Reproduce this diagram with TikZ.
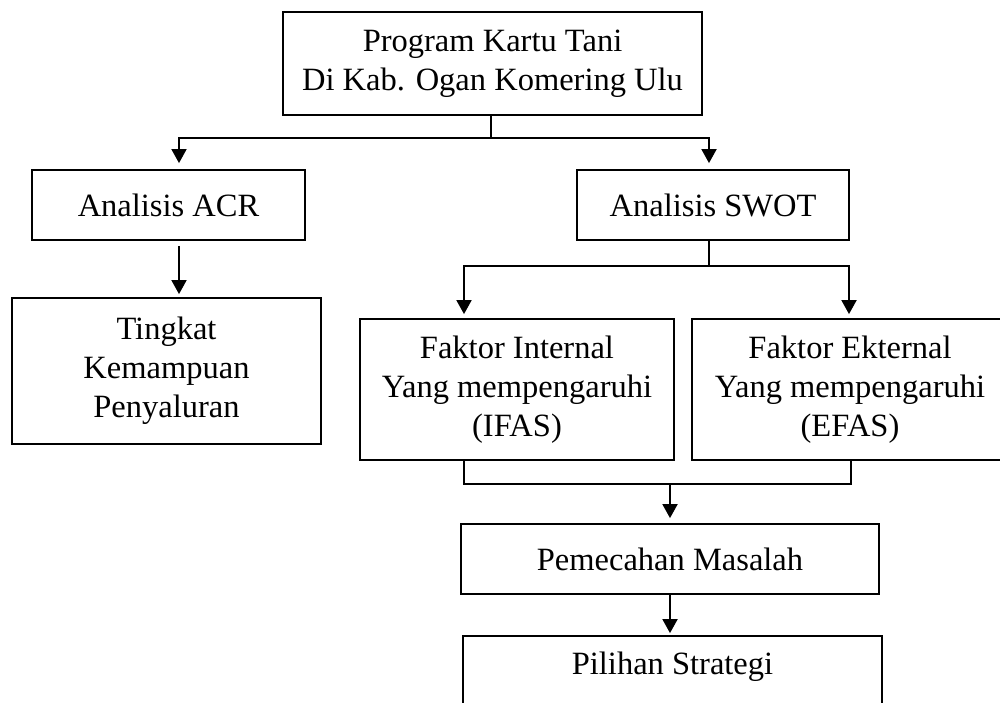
\documentclass[tikz,border=0pt]{standalone}
\usepackage{fontspec}
\setmainfont{Liberation Serif}
\usetikzlibrary{arrows.meta}
\begin{document}
\begin{tikzpicture}[x=1pt,y=-1pt,
  box/.style={draw, line width=1.8pt, inner sep=0pt, align=center, font=\fontsize{32.5}{39}\selectfont},
  lbl/.style={inner sep=0pt, align=center, font=\fontsize{32.5}{39}\selectfont},
  conn/.style={line width=1.8pt},
  arr/.style={conn, -{Triangle[length=14pt,width=15pt]}}]
\useasboundingbox (0,0) rectangle (1000,702);
\clip (0,0) rectangle (1000,702);

\node[box, minimum width=419pt, minimum height=103pt] (top) at (492.5,63.5) {Program Kartu Tani\\Di Kab. Ogan Komering Ulu};
\node[box, minimum width=273pt, minimum height=70pt] (acr) at (168.5,205) {Analisis ACR};
\node[box, minimum width=272pt, minimum height=70pt] (swot) at (713,205) {Analisis SWOT};
\node[box, minimum width=309pt, minimum height=146pt] (ting) at (166.5,371) {Tingkat\\Kemampuan\\Penyaluran};
\node[box, minimum width=314pt, minimum height=141pt] (ifas) at (517,389.5) {Faktor Internal\\Yang mempengaruhi\\(IFAS)};
\node[box, minimum width=316pt, minimum height=141pt] (efas) at (850,389.5) {Faktor Ekternal\\Yang mempengaruhi\\(EFAS)};
\node[box, minimum width=418pt, minimum height=70pt] (pem) at (670,559) {Pemecahan Masalah};
\node[box, minimum width=419pt, minimum height=124pt] (pil) at (672.5,698) {};
\node[lbl] (piltxt) at (672.5,667) {Pilihan Strategi};

\coordinate (tj) at (491,138);
\coordinate (tl) at (179,138);
\coordinate (tr) at (709,138);
\draw[conn] (top.south -| tj) -- (tj);
\draw[arr, shorten >=6pt] (tj) -- (tl) -- (tl |- acr.north);
\draw[arr, shorten >=6pt] (tj) -| (tr |- swot.north);

\coordinate (acrx) at (179,240);
\draw[arr, shorten <=5pt, shorten >=3pt] (acr.south -| acrx) -- (ting.north -| acrx);

\coordinate (sj) at (709,266);
\coordinate (sl) at (464,266);
\coordinate (sr) at (849,266);
\draw[arr, shorten >=4pt] (swot.south -| sj) |- (sl) -- (sl |- ifas.north);
\draw[arr, shorten >=4pt] (sj) -| (sr |- efas.north);

\coordinate (bl) at (464,484);
\coordinate (br) at (851,484);
\coordinate (bm) at (670,484);
\draw[conn] (ifas.south -| bl) |- (br) -- (efas.south -| br);
\draw[arr, shorten >=5pt] (bm) -- (bm |- pem.north);
\draw[arr, shorten >=2pt] (pem.south) -- (pem.south |- pil.north);
\end{tikzpicture}
\end{document}
